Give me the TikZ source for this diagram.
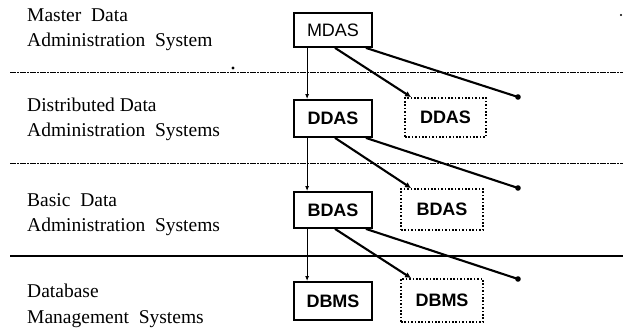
\documentclass[tikz,border=0pt]{standalone}
\usepackage{fontspec}
\setmainfont{Liberation Serif}
\setsansfont{Liberation Sans}
\usetikzlibrary{arrows.meta}

\begin{document}
\begin{tikzpicture} [x = 1pt, y = -1pt]

	\tikzset{
		level/.style = {anchor = base west, align = left, inner sep = 0pt, font = \fontsize{19.5}{25}\selectfont},
		sysbox/.style = {draw, line width = 1.8pt, inner sep = 0pt, minimum width = 78pt, font = \sffamily\bfseries\fontsize{18}{20}\selectfont},
		copybox/.style = {draw, line width = 1.8pt, dash pattern = on 1.6pt off 1.8pt, inner sep = 0pt, minimum width = 82pt, font = \sffamily\bfseries\fontsize{18}{20}\selectfont},
		down/.style = {line width = 1pt, -{Latex[length = 5pt, width = 4pt]}},
		spread/.style = {line width = 2.1pt, -{Latex[length = 6pt, width = 6pt]}},
		border/.style = {line width = 0.9pt, dash pattern = on 6pt off 1pt on 2pt off 1pt}
	}

	\useasboundingbox (0, 0) rectangle (623, 328);

		% Define coordinates.

	%level texts
	\node [level] (master) at (27, 47) {Master\ \ Data\\Administration\ \ System};
	\node [level] (distributed) at (27, 137) {Distributed Data\\Administration\ \ Systems};
	\node [level] (basic) at (27, 232) {Basic\ \ Data\\Administration\ \ Systems};
	\node [level] (database) at (27, 323) {Database\\Management\ \ Systems};

	%systems
	\node [sysbox, font = \sffamily\fontsize{18}{20}\selectfont, minimum height = 34pt] (MDAS) at (333, 30) {MDAS};
	\node [sysbox, minimum height = 37pt] (DDAS) at (333, 118.5) {DDAS};
	\node [sysbox, minimum height = 36pt] (BDAS) at (333, 210) {BDAS};
	\node [sysbox, minimum height = 38pt] (DBMS) at (333, 301) {DBMS};

	%further systems of a level
	\node [copybox, minimum width = 81pt, minimum height = 39pt] (DDAS2) at (445.5, 117.5) {DDAS};
	\node [copybox, minimum height = 41pt] (BDAS2) at (442, 209.5) {BDAS};
	\node [copybox, minimum height = 43pt] (DBMS2) at (442, 300.5) {DBMS};

	%open ends
	\coordinate (DDASn) at (518, 97);
	\coordinate (BDASn) at (518, 188);
	\coordinate (DBMSn) at (518, 279);

% Draw level borders.

	\draw [border] (10, 72) -- (623, 72);
	\draw [border] (10, 163) -- (623, 163);
	\draw [line width = 1.4pt] (10, 256) -- (623, 256);

% Draw lines.

	\draw [down] ([xshift = 14pt] MDAS.south west) -- ([xshift = 14pt] DDAS.north west);
	\draw [down] ([xshift = 14pt] DDAS.south west) -- ([xshift = 14pt] BDAS.north west);
	\draw [down] ([xshift = 14pt] BDAS.south west) -- ([xshift = 14pt] DBMS.north west);

	\draw [spread] ([xshift = 2pt] MDAS.south) -- ([xshift = 7pt] DDAS2.north west);
	\draw [spread] ([xshift = 2pt] DDAS.south) -- ([xshift = 11pt] BDAS2.north west);
	\draw [spread] ([xshift = 2pt] BDAS.south) -- ([xshift = 11pt] DBMS2.north west);

	\draw [line width = 2.1pt] ([xshift = -7pt] MDAS.south east) -- (DDASn);
	\draw [line width = 2.1pt] ([xshift = -7pt] DDAS.south east) -- (BDASn);
	\draw [line width = 2.1pt] ([xshift = -7pt] BDAS.south east) -- (DBMSn);

% Draw end points.

	\fill (DDASn) circle (2.8pt);
	\fill (BDASn) circle (2.8pt);
	\fill (DBMSn) circle (2.8pt);

	\fill (233, 68) circle (1.6pt);
	\fill (621, 15) circle (1.2pt);

\end{tikzpicture}
\end{document}
